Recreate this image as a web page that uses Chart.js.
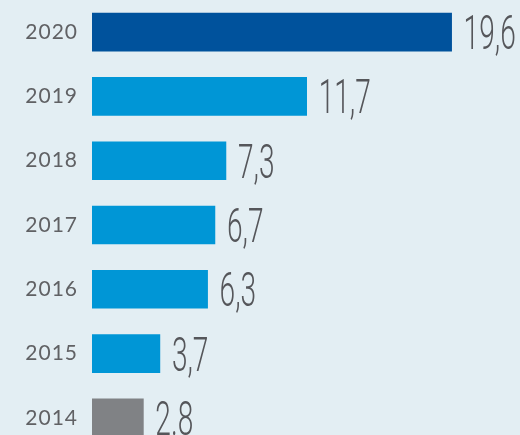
<!DOCTYPE html>
<html>
<head>
<meta charset="utf-8">
<script src="https://cdn.jsdelivr.net/npm/chart.js@4"></script>
<style>
    html, body { margin: 0; padding: 0; background: #e3eef3; overflow: hidden; }
    #wrap { width: 520px; height: 450px; }
</style>
</head>
<body>
<div id="wrap"><canvas id="barChart" width="520" height="450"></canvas></div>
<script>
// Chart data
const years = ['2020', '2019', '2018', '2017', '2016', '2015', '2014'];
const values = [19.6, 11.7, 7.3, 6.7, 6.3, 3.7, 2.8];
const valueLabels = ['19,6', '11,7', '7,3', '6,7', '6,3', '3,7', '2.8'];

const barColors = ['#00529c', '#0096d6', '#0096d6', '#0096d6', '#0096d6', '#0096d6', '#808285'];

// Draws the big condensed value next to each bar
const valueLabelPlugin = {
    id: 'valueLabels',
    beforeDraw(chart) {
        chart.ctx.letterSpacing = '1px';
    },
    afterDatasetsDraw(chart) {
        const ctx = chart.ctx;
        const meta = chart.getDatasetMeta(0);
        meta.data.forEach((bar, i) => {
            ctx.save();
            ctx.letterSpacing = '0px';
            ctx.translate(bar.x + 12, bar.y + 17);
            ctx.scale(0.585, 1);
            ctx.font = '300 48px Roboto';
            ctx.fillStyle = '#55565a';
            ctx.textAlign = 'left';
            ctx.textBaseline = 'alphabetic';
            ctx.fillText(valueLabels[i], 0, 0);
            ctx.restore();
        });
    }
};

document.addEventListener('DOMContentLoaded', function() {
    const ctx = document.getElementById('barChart').getContext('2d');
    const barChart = new Chart(ctx, {
        type: 'bar',
        data: {
            labels: years,
            datasets: [{
                data: values,
                backgroundColor: barColors,
                borderWidth: 0,
                barThickness: 38
            }]
        },
        options: {
            indexAxis: 'y',
            responsive: false,
            animation: false,
            devicePixelRatio: 1,
            layout: { padding: { top: 0, bottom: 0, left: 0, right: 6 } },
            plugins: {
                legend: { display: false },
                tooltip: { enabled: false }
            },
            scales: {
                x: {
                    display: false,
                    min: 0,
                    max: 23
                },
                y: {
                    grid: { display: false, drawTicks: false },
                    border: { display: false },
                    ticks: {
                        color: '#606164',
                        padding: 14,
                        font: { family: 'Lato', size: 21 }
                    },
                    afterFit: function(scale) {
                        scale.width = 92;
                        scale.paddingTop = 0;
                        scale.paddingBottom = 0;
                    }
                }
            }
        },
        plugins: [valueLabelPlugin]
    });
});
</script>
</body>
</html>
